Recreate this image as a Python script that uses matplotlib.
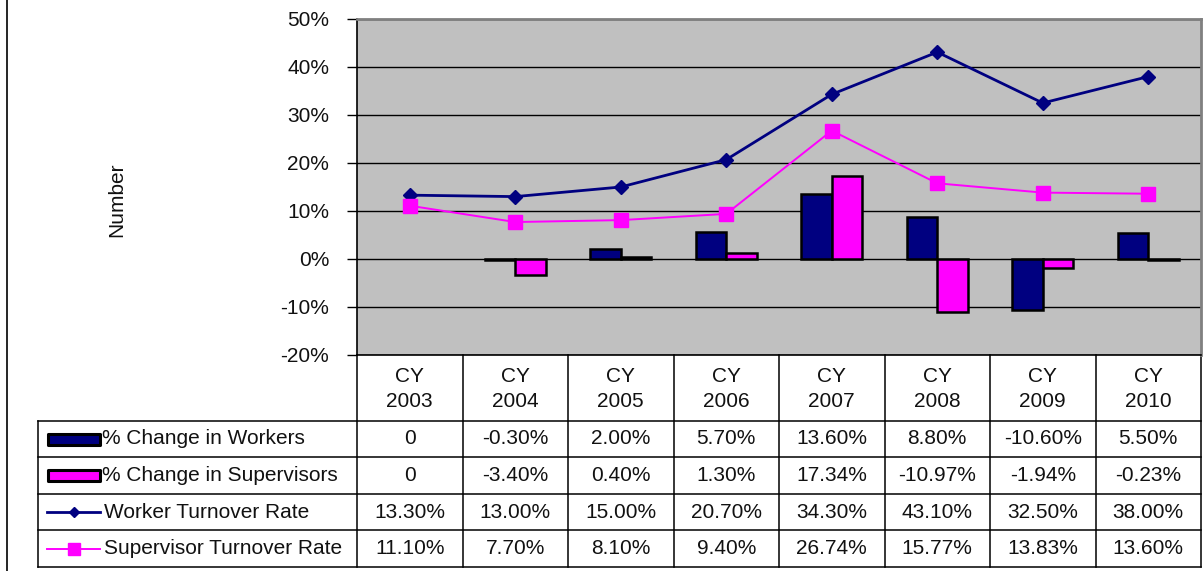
import matplotlib
matplotlib.use("Agg")
import matplotlib.pyplot as plt
from matplotlib.lines import Line2D
from matplotlib.patches import Rectangle

plt.rcParams['font.family'] = ['Liberation Sans', 'DejaVu Sans']

years = ["CY\n2003", "CY\n2004", "CY\n2005", "CY\n2006", "CY\n2007", "CY\n2008", "CY\n2009", "CY\n2010"]
change_workers = [0, -0.30, 2.00, 5.70, 13.60, 8.80, -10.60, 5.50]
change_supervisors = [0, -3.40, 0.40, 1.30, 17.34, -10.97, -1.94, -0.23]
worker_turnover = [13.30, 13.00, 15.00, 20.70, 34.30, 43.10, 32.50, 38.00]
supervisor_turnover = [11.10, 7.70, 8.10, 9.40, 26.74, 15.77, 13.83, 13.60]
series_names = ["% Change in Workers", "% Change in Supervisors",
                "Worker Turnover Rate", "Supervisor Turnover Rate"]
yticks = [-20, -10, 0, 10, 20, 30, 40, 50]

NAVY = "#000080"
MAGENTA = "#FF00FF"
FS = 15
TXT = "#111111"
W, H = 1204, 571
fig = plt.figure(figsize=(W / 100, H / 100), dpi=100)

# plot area in pixels
L, R, T, B = 357, 1201, 19, 355
ax = fig.add_axes([L / W, (H - B) / H, (R - L) / W, (B - T) / H])
ax.set_facecolor("#C0C0C0")
n = len(years)
x = list(range(n))
ax.set_xlim(-0.5, n - 0.5)
ax.set_ylim(-20, 50)
ax.set_yticks(yticks)
ax.yaxis.set_major_formatter(plt.FuncFormatter(lambda v, p: f"{v:.0f}%"))
ax.tick_params(axis='y', length=7, width=1, pad=13, labelsize=FS, colors='black',
               labelcolor=TXT)
ax.set_xticks([])
ax.grid(axis='y', color='black', linewidth=1)
ax.set_axisbelow(True)
for s in ['top', 'right']:
    ax.spines[s].set_color('#808080')
    ax.spines[s].set_linewidth(2)
ax.spines['left'].set_color('black')
ax.spines['bottom'].set_color('black')
ax.spines['left'].set_linewidth(1.2)
ax.spines['bottom'].set_linewidth(1.2)

bw = 0.29
ax.bar([i - bw / 2 for i in x], change_workers, width=bw, color=NAVY,
       edgecolor='black', linewidth=[0 if v == 0 else 1.8 for v in change_workers], zorder=3)
ax.bar([i + bw / 2 for i in x], change_supervisors, width=bw, color=MAGENTA,
       edgecolor='black', linewidth=[0 if v == 0 else 1.8 for v in change_supervisors], zorder=3)
ax.plot(x, worker_turnover, color=NAVY, lw=2.0, marker='D', ms=7, zorder=4)
ax.plot(x, supervisor_turnover, color=MAGENTA, lw=1.4, marker='s', ms=10, zorder=4)

fig.text(117 / W, 1 - 200 / H, "Number", rotation=90, ha='center', va='center',
         fontsize=FS, color=TXT)

# ---- data table ----
tr = ax.get_xaxis_transform()
def px2x(px):
    return -0.5 + (px - L) / (R - L) * n
def py2y(py):
    return (B - py) / (B - T)

rows = [421, 457, 494, 530, 567]
lkw = dict(transform=tr, clip_on=False, color='black', lw=1.1)
for k in range(n + 1):
    ax.add_line(Line2D([k - 0.5, k - 0.5], [py2y(B), py2y(rows[-1])], **lkw))
ax.add_line(Line2D([px2x(38), px2x(38)], [py2y(rows[0]), py2y(rows[-1])], **lkw))
for r in rows:
    ax.add_line(Line2D([px2x(38), n - 0.5], [py2y(r), py2y(r)], **lkw))

for i, lab in enumerate(years):
    ax.text(i, py2y((B + rows[0]) / 2 + 1), lab, transform=tr, ha='center', va='center',
            fontsize=FS, linespacing=1.35, clip_on=False, color=TXT)

def fmt(v):
    return "0" if v == 0 else f"{v:.2f}%"

data_rows = [change_workers, change_supervisors, worker_turnover, supervisor_turnover]
for r, vals in enumerate(data_rows):
    yc = py2y((rows[r] + rows[r + 1]) / 2)
    for i, v in enumerate(vals):
        ax.text(i, yc, fmt(v), transform=tr, ha='center', va='center', fontsize=FS,
                clip_on=False, color=TXT)
    if r < 2:
        col = NAVY if r == 0 else MAGENTA
        ax.add_patch(Rectangle((px2x(48), yc - 5.5 / (B - T)), px2x(100) - px2x(48), 11 / (B - T),
                               transform=tr, clip_on=False, facecolor=col,
                               edgecolor='black', lw=2.2, joinstyle='round'))
        tx = 102
    else:
        col = NAVY if r == 2 else MAGENTA
        ax.add_line(Line2D([px2x(47), px2x(100)], [yc, yc], transform=tr, clip_on=False,
                           color=col, lw=2.0 if r == 2 else 1.4))
        ax.add_line(Line2D([px2x(74)], [yc], transform=tr, clip_on=False, color=col,
                           marker='D' if r == 2 else 's', ms=5 if r == 2 else 8, lw=0))
        tx = 104
    ax.text(px2x(tx), yc, series_names[r], transform=tr, ha='left', va='center',
            fontsize=FS, clip_on=False, color=TXT)

# outer frame line on the left
fig.add_artist(Line2D([6.5 / W, 6.5 / W], [0, 1], transform=fig.transFigure, color='black', lw=1.2))

fig.savefig("out.png", dpi=100)
